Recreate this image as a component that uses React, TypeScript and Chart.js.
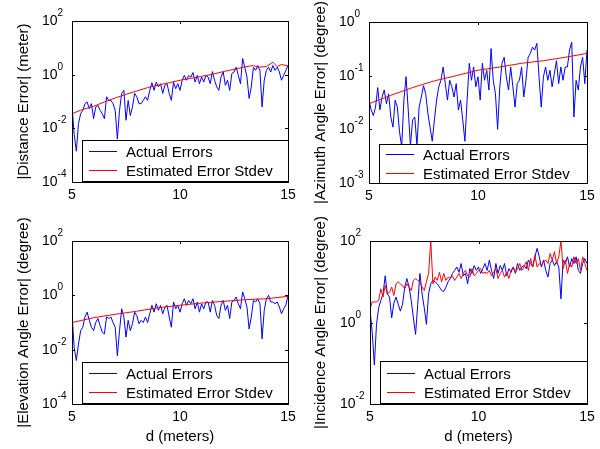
import React, { useEffect, useRef } from "react";
import { Chart, registerables } from "chart.js";
Chart.register(...registerables);

const W = 600;
const H = 449;
const FONT = "'Liberation Sans', Arial, sans-serif";

// distance grid (meters)
const dist = [
  5.0, 5.1, 5.2, 5.3, 5.4, 5.5, 5.6, 5.7, 5.8, 5.9,
  6.0, 6.1, 6.2, 6.3, 6.4, 6.5, 6.6, 6.7, 6.8, 6.9,
  7.0, 7.1, 7.2, 7.3, 7.4, 7.5, 7.6, 7.7, 7.8, 7.9,
  8.0, 8.1, 8.2, 8.3, 8.4, 8.5, 8.6, 8.7, 8.8, 8.9,
  9.0, 9.1, 9.2, 9.3, 9.4, 9.5, 9.6, 9.7, 9.8, 9.9,
  10.0, 10.1, 10.2, 10.3, 10.4, 10.5, 10.6, 10.7, 10.8, 10.9,
  11.0, 11.1, 11.2, 11.3, 11.4, 11.5, 11.6, 11.7, 11.8, 11.9,
  12.0, 12.1, 12.2, 12.3, 12.4, 12.5, 12.6, 12.7, 12.8, 12.9,
  13.0, 13.1, 13.2, 13.3, 13.4, 13.5, 13.6, 13.7, 13.8, 13.9,
  14.0, 14.1, 14.2, 14.3, 14.4, 14.5, 14.6, 14.7, 14.8, 14.9,
  15.0,
];

const distanceActual = [
  0.07, 0.006, 0.0014, 0.015, 0.035, 0.047, 0.083, 0.096, 0.054, 0.083,
  0.023, 0.063, 0.072, 0.047, 0.035, 0.023, 0.15, 0.11, 0.11, 0.083,
  0.047, 0.004, 0.047, 0.2, 0.26, 0.02, 0.11, 0.03, 0.063, 0.2,
  0.15, 0.083, 0.083, 0.11, 0.15, 0.11, 0.26, 0.5, 0.26, 0.53,
  0.35, 0.46, 0.2, 0.4, 0.46, 0.2, 0.11, 0.53, 0.3, 0.46,
  0.26, 0.62, 0.94, 0.62, 0.94, 0.8, 1.2, 0.53, 0.94, 0.46,
  0.82, 0.53, 0.94, 0.82, 0.46, 1.3, 0.62, 0.35, 0.26, 0.82,
  1.26, 0.4, 0.62, 0.26, 1.1, 1.26, 1.9, 0.94, 0.46, 4.0,
  1.9, 0.82, 0.13, 0.35, 1.9, 1.45, 2.2, 1.45, 0.063, 0.62,
  1.45, 1.9, 1.26, 2.2, 1.45, 1.9, 1.26, 0.62, 0.94, 1.45,
  2.2,
];
const distanceStdX = [5, 5.5, 6, 6.5, 7, 7.5, 8, 8.5, 9, 9.5, 10, 10.5, 11, 11.5, 12, 12.5, 13, 13.4, 13.6, 14, 14.3, 14.5, 14.7, 15];
const distanceStd = [0.035, 0.051, 0.066, 0.096, 0.135, 0.185, 0.246, 0.33, 0.41, 0.5, 0.62, 0.73, 0.87, 1.03, 1.3, 1.58, 1.93, 2.2, 1.9, 2.0, 2.9, 2.0, 2.4, 2.1];

const azimuthActual = [
  0.035, 0.023, 0.018, 0.026, 0.06, 0.023, 0.04, 0.054, 0.03, 0.046,
  0.017, 0.011, 0.035, 0.026, 0.009, 0.0047, 0.035, 0.096, 0.023, 0.005,
  0.015, 0.017, 0.005, 0.026, 0.04, 0.065, 0.046, 0.02, 0.011, 0.006,
  0.015, 0.035, 0.062, 0.082, 0.145, 0.071, 0.035, 0.082, 0.062, 0.04,
  0.071, 0.023, 0.035, 0.015, 0.006, 0.035, 0.17, 0.082, 0.145, 0.062,
  0.095, 0.035, 0.17, 0.082, 0.126, 0.054, 0.32, 0.082, 0.046, 0.01,
  0.062, 0.17, 0.22, 0.095, 0.054, 0.145, 0.062, 0.026, 0.071, 0.082,
  0.145, 0.04, 0.082, 0.22, 0.26, 0.34, 0.3, 0.4, 0.095, 0.026,
  0.095, 0.145, 0.082, 0.126, 0.062, 0.109, 0.19, 0.071, 0.145, 0.082,
  0.145, 0.145, 0.3, 0.42, 0.017, 0.082, 0.054, 0.145, 0.22, 0.071,
  0.3,
];
const angleStdX = [5, 6, 7, 8, 9, 10, 11, 12, 13, 14, 15];
const azimuthStd = [0.03, 0.043, 0.06, 0.08, 0.1, 0.126, 0.145, 0.17, 0.19, 0.22, 0.26];

const elevationActual = [
  0.21, 0.012, 0.004, 0.016, 0.05, 0.067, 0.16, 0.24, 0.12, 0.067,
  0.05, 0.1, 0.14, 0.077, 0.044, 0.038, 0.16, 0.14, 0.16, 0.1,
  0.067, 0.006, 0.05, 0.32, 0.16, 0.029, 0.12, 0.05, 0.09, 0.24,
  0.18, 0.09, 0.12, 0.1, 0.16, 0.1, 0.21, 0.43, 0.24, 0.49,
  0.28, 0.43, 0.21, 0.37, 0.43, 0.16, 0.067, 0.57, 0.32, 0.43,
  0.24, 0.49, 0.75, 0.43, 0.65, 0.49, 0.75, 0.32, 0.57, 0.24,
  0.49, 0.32, 0.57, 0.57, 0.24, 0.65, 0.43, 0.18, 0.14, 0.43,
  0.65, 0.28, 0.43, 0.14, 0.57, 0.65, 0.87, 0.49, 0.32, 1.33,
  0.75, 0.37, 0.058, 0.16, 0.65, 0.57, 0.75, 0.49, 0.025, 0.28,
  0.75, 1.0, 0.57, 0.57, 0.49, 0.57, 0.37, 0.21, 0.32, 0.43,
  1.0,
];
const elevationStd = [0.1, 0.15, 0.2, 0.26, 0.35, 0.43, 0.52, 0.6, 0.69, 0.75, 0.92];

const incidenceActual = [
  2.0, 0.6, 0.09, 0.9, 2.3, 3.5, 5.0, 14, 5.0, 4.2,
  1.3, 3.0, 4.2, 2.8, 1.9, 2.8, 7.4, 12, 7.4, 3.5,
  1.3, 0.51, 2.8, 16, 5.0, 2.3, 0.9, 5.0, 8.9, 10.8,
  10, 8.9, 7.4, 6.1, 5.8, 7.4, 10, 12, 16, 19,
  23, 17, 28, 14, 16, 8.9, 21, 16, 25, 19,
  23, 16, 21, 28, 19, 34, 19, 12, 28, 16,
  25, 19, 28, 14, 21, 17, 23, 16, 28, 19,
  23, 25, 21, 34, 28, 23, 41, 66, 41, 23,
  34, 19, 13, 28, 34, 25, 31, 23, 3.8, 34,
  28, 41, 23, 37, 28, 41, 19, 16, 28, 37,
  28,
];
const incidenceStd = [
  2.1, 3.2, 3.2, 3.2, 3.5, 6.7, 4.2, 8.1, 5.0, 5.5,
  7.4, 4.6, 8.9, 10, 8.9, 8.1, 6.7, 8.9, 7.4, 6.1,
  10.8, 12, 10.8, 10, 7.4, 6.1, 10, 16, 100, 8.9,
  13, 10.8, 17, 10, 16, 10.8, 13, 12, 14, 10.8,
  13, 16, 12, 16, 19, 14, 13, 21, 14, 16,
  19, 21, 16, 17, 16, 19, 14, 17, 21, 12,
  16, 19, 13, 17, 12, 19, 23, 17, 21, 28,
  19, 23, 31, 19, 37, 23, 45, 23, 28, 25,
  31, 34, 28, 49, 34, 55, 28, 41, 100, 21,
  34, 16, 28, 23, 41, 28, 37, 19, 41, 28,
  19,
];

const xTicks = [5, 10, 15];
const legendLabels = ["Actual Errors", "Estimated Error Stdev"];
const legendColors = ["#0000ff", "#ff0000"];
const xTitle = "d (meters)";

type PanelDef = {
  box: [number, number, number, number];
  legend: [number, number, number, number]; // gap below, height, row1, row2
  yMin: number;
  yMax: number;
  yExps: number[];
  yTitle: string;
  titleX: number;
  showXTitle: boolean;
  actX: number[];
  actY: number[];
  stdX: number[];
  stdY: number[];
};

const panels: PanelDef[] = [
  { box: [72, 21, 288, 182], legend: [1, 41, 11, 30], yMin: 1e-4, yMax: 1e2, yExps: [-4, -2, 0, 2], yTitle: "|Distance Error| (meter)", titleX: 24, showXTitle: false, actX: dist, actY: distanceActual, stdX: distanceStdX, stdY: distanceStd },
  { box: [369, 22, 587, 183], legend: [0, 39, 10, 29], yMin: 1e-3, yMax: 1e0, yExps: [-3, -2, -1, 0], yTitle: "|Azimuth Angle Error| (degree)", titleX: 321, showXTitle: false, actX: dist, actY: azimuthActual, stdX: angleStdX, stdY: azimuthStd },
  { box: [72, 241, 288, 404], legend: [1, 41, 11, 30], yMin: 1e-4, yMax: 1e2, yExps: [-4, -2, 0, 2], yTitle: "|Elevation Angle Error| (degree)", titleX: 24, showXTitle: true, actX: dist, actY: elevationActual, stdX: angleStdX, stdY: elevationStd },
  { box: [370, 241, 587, 404], legend: [1, 42, 12, 31], yMin: 1e-2, yMax: 1e2, yExps: [-2, 0, 2], yTitle: "|Incidence Angle Error| (degree)", titleX: 321, showXTitle: true, actX: dist, actY: incidenceActual, stdX: dist, stdY: incidenceStd },
];

function makeFrame(p: PanelDef) {
  return {
    id: "frame",
    afterDraw(chart: any) {
      const { ctx, chartArea: ca, scales } = chart;
      const l = ca.left, t = ca.top, r = ca.right, b = ca.bottom;
      ctx.save();
      ctx.strokeStyle = "#000";
      ctx.lineWidth = 1;
      ctx.strokeRect(l + 0.5, t + 0.5, r - l, b - t);
      const tl = 3;
      ctx.beginPath();
      for (const v of xTicks) {
        const x = Math.round(scales.x.getPixelForValue(v)) + 0.5;
        ctx.moveTo(x, b); ctx.lineTo(x, b - tl);
        ctx.moveTo(x, t); ctx.lineTo(x, t + tl);
      }
      for (const e of p.yExps) {
        const y = Math.round(scales.y.getPixelForValue(Math.pow(10, e))) + 0.5;
        ctx.moveTo(l, y); ctx.lineTo(l + tl, y);
        ctx.moveTo(r, y); ctx.lineTo(r - tl, y);
      }
      ctx.stroke();

      ctx.fillStyle = "#000";
      ctx.font = `14px ${FONT}`;
      ctx.textAlign = "center";
      ctx.textBaseline = "alphabetic";
      for (const v of xTicks) {
        ctx.fillText(String(v), scales.x.getPixelForValue(v), b + 17);
      }
      for (const e of p.yExps) {
        const y = scales.y.getPixelForValue(Math.pow(10, e));
        ctx.font = `14px ${FONT}`;
        ctx.textAlign = "left";
        const x0 = l - 30;
        ctx.fillText("10", x0, y + 4);
        const w = ctx.measureText("10").width;
        ctx.font = `10px ${FONT}`;
        ctx.fillText(String(e), x0 + w, y - 5);
      }
      ctx.font = `15px ${FONT}`;
      ctx.textAlign = "center";
      if (p.showXTitle) {
        ctx.fillText(xTitle, (l + r) / 2, b + 37);
      }
      ctx.save();
      ctx.translate(p.titleX, (t + b) / 2);
      ctx.rotate(-Math.PI / 2);
      ctx.textBaseline = "middle";
      ctx.fillText(p.yTitle, 0, 0);
      ctx.restore();

      // legend
      const [gap, lh, r1, r2] = p.legend;
      const lx = l + 10;
      const ly = b - gap - lh;
      ctx.fillStyle = "#ffffff";
      ctx.fillRect(lx, ly, r - lx, lh);
      ctx.strokeStyle = "#000000";
      ctx.lineWidth = 1;
      ctx.strokeRect(lx + 0.5, ly + 0.5, r - lx, lh);
      const rows = [ly + r1, ly + r2];
      for (let i = 0; i < 2; i++) {
        ctx.fillStyle = legendColors[i];
        ctx.fillRect(lx + 7, rows[i], 28, 1);
        ctx.fillStyle = "#000000";
        ctx.font = `15px ${FONT}`;
        ctx.textAlign = "left";
        ctx.textBaseline = "alphabetic";
        ctx.fillText(legendLabels[i], lx + 44, rows[i] + 6);
      }
      ctx.restore();
    },
  };
}

function Panel({ p }: { p: PanelDef }) {
  const ref = useRef<HTMLCanvasElement>(null);
  useEffect(() => {
    const canvas = ref.current!;
    const [l, t, r, b] = p.box;
    const chart = new Chart(canvas, {
      type: "line",
      data: {
        datasets: [
          {
            data: p.stdX.map((x, i) => ({ x, y: p.stdY[i] })),
            borderColor: "#ff0000",
            borderWidth: 1,
            pointRadius: 0,
            tension: 0,
            fill: false,
          },
          {
            data: p.actX.map((x, i) => ({ x, y: p.actY[i] })),
            borderColor: "#0000ff",
            borderWidth: 1,
            pointRadius: 0,
            tension: 0,
            fill: false,
          },
        ],
      },
      options: {
        responsive: false,
        animation: false,
        devicePixelRatio: 1,
        events: [],
        layout: { padding: { left: l, top: t, right: W - r, bottom: H - b } },
        scales: {
          x: { type: "linear", min: 5, max: 15, display: false },
          y: { type: "logarithmic", min: p.yMin, max: p.yMax, display: false },
        },
        plugins: { legend: { display: false }, tooltip: { enabled: false } },
      },
      plugins: [makeFrame(p)],
    } as any);
    return () => chart.destroy();
  }, [p]);
  return (
    <canvas
      ref={ref}
      width={W}
      height={H}
      style={{ position: "absolute", left: 0, top: 0, width: W, height: H }}
    />
  );
}

export default function App() {
  return (
    <div style={{ position: "absolute", left: 0, top: 0, width: W, height: H, background: "#fff" }}>
      {panels.map((p, i) => (
        <Panel key={i} p={p} />
      ))}
    </div>
  );
}
